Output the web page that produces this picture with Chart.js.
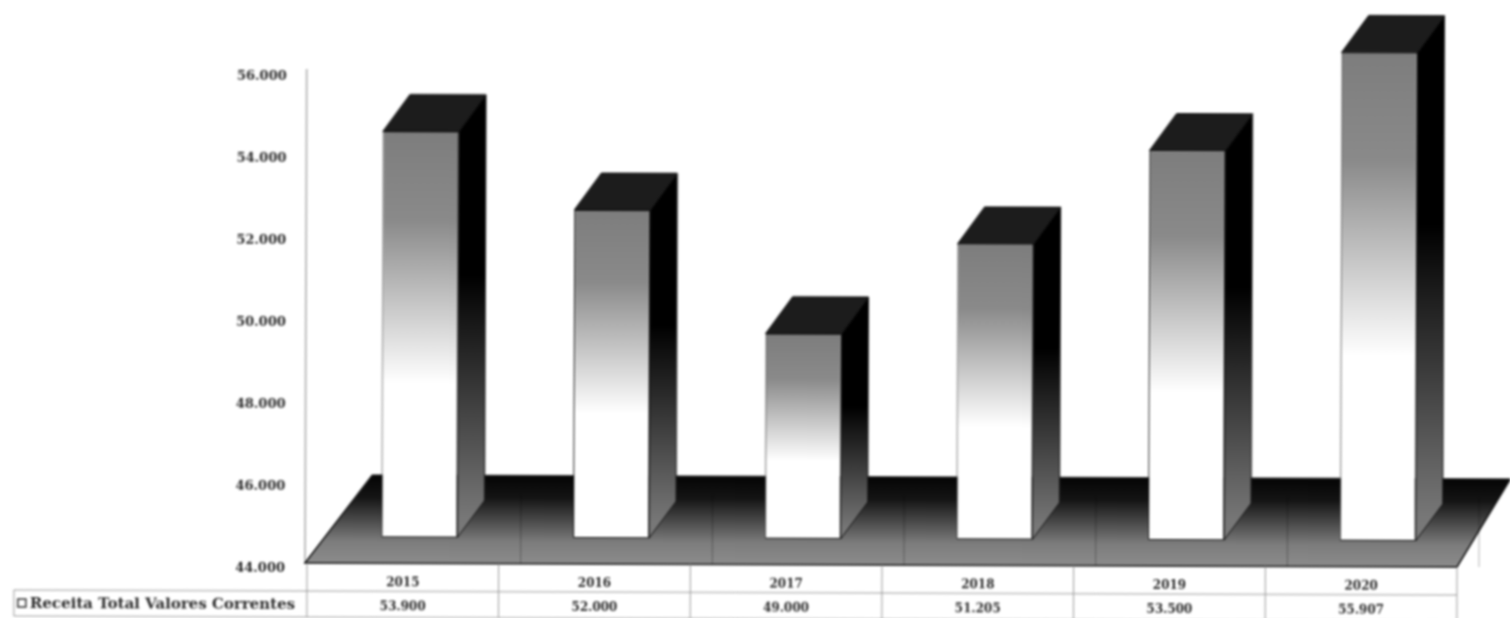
<!DOCTYPE html>
<html>
<head>
<meta charset="utf-8">
<style>
html,body{margin:0;padding:0;background:#fff;overflow:hidden}
#c{display:block;transform-origin:305px 563px;transform:rotate(0.2deg);filter:blur(0.9px)}
</style>
<script src="https://cdn.jsdelivr.net/npm/chart.js@4"></script>
</head>
<body>
<canvas id="c" width="1510" height="618"></canvas>
<script>
const categories = ['2015','2016','2017','2018','2019','2020'];
const receita = [53900,52000,49000,51205,53500,55907];
const seriesName = 'Receita Total Valores Correntes';
const fmt = v => String(v).replace(/(\d)(\d{3})$/,'$1.$2');

const SHIFT_X = 16.5, SHIFT_Y = -32, DX = 27, DY = -37;
const FLOOR_LIFT = 6, FLOOR_DX = 67, FLOOR_DY = -88;
const TEXT = '#2b2b2b';
const FONT = 'DejaVu Serif';

function frontGradient(ctx){
  const chart = ctx.chart;
  if(!chart.chartArea || ctx.parsed === undefined) return '#999';
  const yS = chart.scales.y;
  const top = yS.getPixelForValue(ctx.parsed.y), base = yS.bottom;
  const g = chart.ctx.createLinearGradient(0,top,0,base);
  g.addColorStop(0,'#7d7d7d');
  g.addColorStop(0.22,'#8a8a8a');
  g.addColorStop(0.62,'#ffffff');
  g.addColorStop(1,'#ffffff');
  return g;
}

const bars3d = {
  id:'bars3d',
  beforeDatasetsDraw(chart){
    const {ctx,chartArea:a} = chart;
    const f = a.bottom - FLOOR_LIFT;
    // value axis line
    ctx.save();
    ctx.strokeStyle='#a8a8a8'; ctx.lineWidth=1.5;
    ctx.beginPath(); ctx.moveTo(a.left-2,a.top-8); ctx.lineTo(a.left-2,f); ctx.stroke();
    // floor
    const g = ctx.createLinearGradient(0,f+FLOOR_DY,0,f);
    g.addColorStop(0,'#050505'); g.addColorStop(0.25,'#141414');
    g.addColorStop(0.75,'#7c7c7c'); g.addColorStop(1,'#8c8c8c');
    ctx.beginPath();
    ctx.moveTo(a.left-2,f);
    ctx.lineTo(a.left-2+FLOOR_DX,f+FLOOR_DY);
    ctx.lineTo(a.right+FLOOR_DX-14,f+FLOOR_DY);
    ctx.lineTo(a.right,f);
    ctx.closePath();
    ctx.fillStyle = g; ctx.fill();
    ctx.strokeStyle = '#111'; ctx.lineWidth = 1.5; ctx.stroke();
    // floor grid lines
    const step = (a.right-a.left)/categories.length;
    ctx.strokeStyle = 'rgba(0,0,0,0.3)'; ctx.lineWidth = 1;
    for(let i=0;i<categories.length;i++){
      const x = a.left + step*(i+1) + 22;
      ctx.beginPath(); ctx.moveTo(x,f-70); ctx.lineTo(x,f); ctx.stroke();
    }
    ctx.restore();
  },
  beforeDatasetDraw(chart){
    const ctx = chart.ctx;
    ctx.save();
    ctx.translate(SHIFT_X,SHIFT_Y);
    chart.getDatasetMeta(0).data.forEach(b=>{
      const l=b.x-b.width/2, r=b.x+b.width/2, t=b.y, bt=b.base;
      // side
      const gs = ctx.createLinearGradient(0,t,0,bt);
      gs.addColorStop(0,'#000'); gs.addColorStop(0.35,'#000');
      gs.addColorStop(0.95,'#777'); gs.addColorStop(1,'#7a7a7a');
      ctx.beginPath();
      ctx.moveTo(r,t); ctx.lineTo(r+DX,t+DY); ctx.lineTo(r+DX,bt+DY); ctx.lineTo(r,bt); ctx.closePath();
      ctx.fillStyle = gs; ctx.fill();
      ctx.strokeStyle='#111'; ctx.lineWidth=1; ctx.stroke();
      // top
      ctx.beginPath();
      ctx.moveTo(l,t); ctx.lineTo(l+DX,t+DY); ctx.lineTo(r+DX,t+DY); ctx.lineTo(r,t); ctx.closePath();
      ctx.fillStyle='#1c1c1c'; ctx.fill(); ctx.stroke();
    });
    // let the bars reach their full extent once shifted
    chart.getDatasetMeta(0).dataset;
  },
  afterDatasetDraw(chart){
    chart.ctx.restore();
  },
  afterDraw(chart){
    const {ctx,chartArea:a} = chart;
    const step = (a.right-a.left)/categories.length;
    const rowY = 591, endY = 617;
    ctx.save();
    ctx.strokeStyle='#9a9a9a'; ctx.lineWidth=1;
    for(let i=0;i<=categories.length;i++){
      const x=a.left+step*i;
      ctx.beginPath(); ctx.moveTo(x,a.bottom-FLOOR_LIFT); ctx.lineTo(x,endY); ctx.stroke();
    }
    ctx.beginPath(); ctx.moveTo(14,rowY); ctx.lineTo(a.right,rowY); ctx.stroke();
    ctx.beginPath(); ctx.moveTo(14,endY); ctx.lineTo(a.right,endY); ctx.stroke();
    ctx.beginPath(); ctx.moveTo(14,rowY); ctx.lineTo(14,endY); ctx.stroke();
    // legend key + series name
    ctx.strokeStyle='#333'; ctx.lineWidth=1.5;
    ctx.strokeRect(18,600,8,8);
    ctx.fillStyle=TEXT;
    ctx.font='bold 15px "'+FONT+'"';
    ctx.textBaseline='middle'; ctx.textAlign='left';
    ctx.fillText(chart.data.datasets[0].label,30,605);
    ctx.restore();
  }
};

new Chart(document.getElementById('c'),{
  type:'bar',
  data:{labels:categories,datasets:[{
    label:seriesName,
    data:receita,
    base:44000,
    backgroundColor:frontGradient,
    borderColor:'#1a1a1a',
    borderWidth:1,
    borderSkipped:false,
    clip:false,
    categoryPercentage:1,
    barPercentage:0.396
  }]},
  options:{
    responsive:false,
    animation:false,
    devicePixelRatio:1,
    layout:{padding:{top:77,right:53,bottom:0,left:0}},
    plugins:{legend:{display:false},title:{display:false},tooltip:{enabled:false}},
    scales:{
      x:{
        grid:{display:false},
        border:{display:false},
        afterFit(s){s.height=49;},
        ticks:{
          maxRotation:0,minRotation:0,autoSkip:false,padding:-6,
          color:TEXT,
          font:{family:FONT,size:12,weight:'bold',lineHeight:2},
          callback(v,i){return [categories[i],fmt(receita[i])];}
        }
      },
      y:{
        min:44000,max:56000,
        afterFit(s){s.width=307;},
        grid:{display:false,drawTicks:false},
        border:{display:false},
        ticks:{
          stepSize:2000,padding:22,color:TEXT,
          font:{family:FONT,size:13,weight:'bold'},
          callback:v=>fmt(v)
        }
      }
    }
  },
  plugins:[bars3d]
});
</script>
</body>
</html>
